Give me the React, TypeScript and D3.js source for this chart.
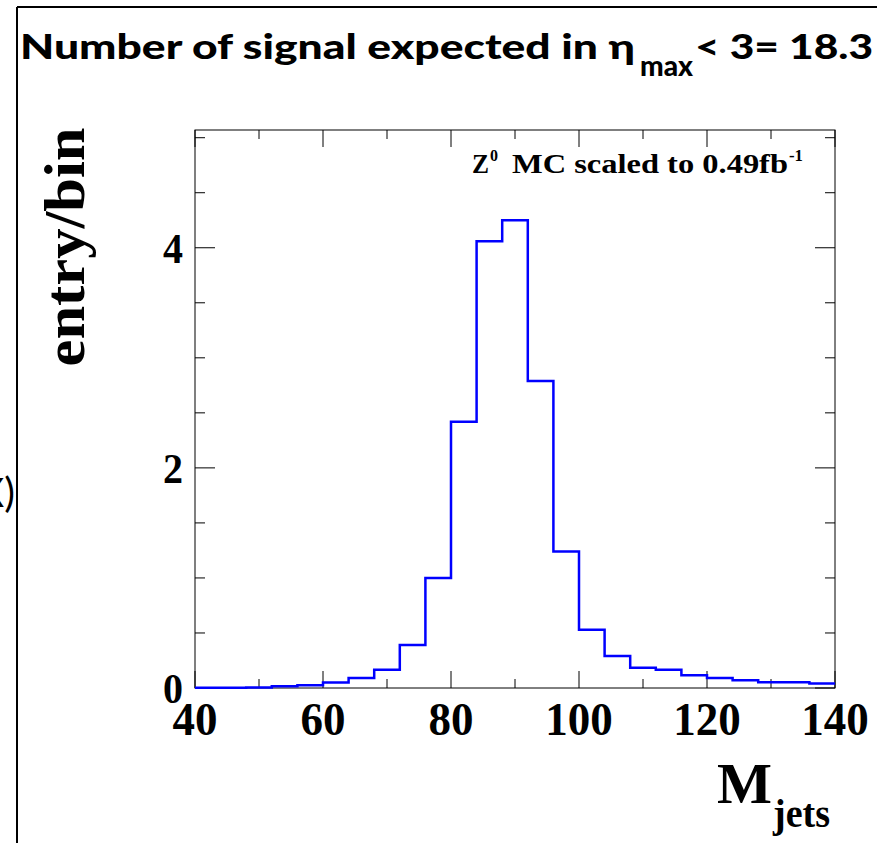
import React from "react";
import * as d3 from "d3";

const binLow = [40, 44, 48, 52, 56, 60, 64, 68, 72, 76, 80, 84, 88, 92, 96, 100, 104, 108, 112, 116, 120, 124, 128, 132, 136];
const binWidth = 4;
const counts = [0.003, 0.003, 0.004, 0.015, 0.025, 0.05, 0.09, 0.165, 0.39, 1.0, 2.42, 4.06, 4.25, 2.79, 1.24, 0.53, 0.29, 0.185, 0.165, 0.115, 0.09, 0.07, 0.053, 0.053, 0.04];
const xTickLabels = [40, 60, 80, 100, 120, 140];
const yTickLabels = [0, 2, 4];
const xDomain = [40, 140];
const yDomain = [0, 5.07];

const W = 877;
const H = 843;

export default function App() {
  const x = d3.scaleLinear().domain(xDomain).range([195, 835]);
  const y = d3.scaleLinear().domain(yDomain).range([688, 130]);

  const pts: [number, number][] = [];
  binLow.forEach((lo, i) => {
    pts.push([lo, counts[i]]);
    pts.push([lo + binWidth, counts[i]]);
  });
  const line = d3
    .line<[number, number]>()
    .x((d) => x(d[0]))
    .y((d) => y(d[1]));
  const path = line(pts) || "";

  const xMinor = d3.range(40, 141, 10);
  const yMinor = d3.range(0, 5.01, 0.5);
  const serif = "'Liberation Serif', 'Times New Roman', serif";
  const sans = "Lato, 'Open Sans', sans-serif";

  const x0 = x(40), x1 = x(140), y0 = y(0), y1 = y(yDomain[1]);

  return (
    <svg width={W} height={H} style={{ position: "absolute", left: 0, top: 0, background: "#fff" }}>
      <rect x={0} y={0} width={W} height={H} fill="#fff" />
      {/* outer slide frame */}
      <line x1={17} y1={7} x2={W} y2={7} stroke="#000" strokeWidth={2} />
      <line x1={17} y1={7} x2={17} y2={H} stroke="#000" strokeWidth={2} />
      <text x={15} y={507} textAnchor="end" fontFamily={sans} fontSize={40} fill="#000">X)</text>

      {/* title */}
      <g fontFamily={sans} fontWeight={900} fill="#000">
        <text x={20} y={59} fontSize={34} textLength={615} lengthAdjust="spacingAndGlyphs">Number of signal expected in η</text>
        <text x={640} y={76} fontSize={29} textLength={53} lengthAdjust="spacingAndGlyphs">max</text>
        <text x={695} y={59} fontSize={34} textLength={178} lengthAdjust="spacingAndGlyphs">&lt; 3= 18.3</text>
      </g>

      {/* plot frame */}
      <rect x={x0} y={y1} width={x1 - x0} height={y0 - y1} fill="none" stroke="#000" strokeWidth={1} />

      {/* x ticks */}
      {xMinor.map((v) => {
        const major = v % 20 === 0;
        const len = major ? 17 : 9;
        return (
          <g key={"xt" + v}>
            <line x1={x(v)} x2={x(v)} y1={y0} y2={y0 - len} stroke="#000" strokeWidth={1} />
            <line x1={x(v)} x2={x(v)} y1={y1} y2={y1 + len} stroke="#000" strokeWidth={1} />
          </g>
        );
      })}
      {/* y ticks */}
      {yMinor.map((v) => {
        const major = Math.abs(v % 2) < 1e-9;
        const len = major ? 20 : 10;
        return (
          <g key={"yt" + v}>
            <line x1={x0} x2={x0 + len} y1={y(v)} y2={y(v)} stroke="#000" strokeWidth={1} />
            <line x1={x1} x2={x1 - len} y1={y(v)} y2={y(v)} stroke="#000" strokeWidth={1} />
          </g>
        );
      })}

      {/* histogram */}
      <path d={path} fill="none" stroke="#0000ff" strokeWidth={2.5} />

      {/* x tick labels */}
      {xTickLabels.map((v) => (
        <text key={"xl" + v} x={x(v)} y={735} textAnchor="middle" fontFamily={serif} fontWeight="bold" fontSize={46} fill="#000"
          textLength={String(v).length * 22.5} lengthAdjust="spacingAndGlyphs">{v}</text>
      ))}
      {/* y tick labels */}
      {yTickLabels.map((v) => (
        <text key={"yl" + v} x={183} y={y(v) + 15} textAnchor="end" fontFamily={serif} fontWeight="bold" fontSize={42} fill="#000"
          textLength={20} lengthAdjust="spacingAndGlyphs">{v}</text>
      ))}

      {/* axis titles */}
      <text transform="translate(84,247) rotate(-90)" textAnchor="middle" fontFamily={serif} fontWeight="bold" fontSize={57} fill="#000"
        textLength={239} lengthAdjust="spacingAndGlyphs">entry/bin</text>
      <text x={717} y={803} fontFamily={serif} fontWeight="bold" fontSize={57} fill="#000" textLength={55} lengthAdjust="spacingAndGlyphs">M</text>
      <text x={773} y={827} fontFamily={serif} fontWeight="bold" fontSize={40} fill="#000" textLength={57} lengthAdjust="spacingAndGlyphs">jets</text>

      {/* annotation */}
      <g fontFamily={serif} fontWeight="bold" fill="#000">
        <text x={472} y={173} fontSize={27} textLength={17} lengthAdjust="spacingAndGlyphs">Z</text>
        <text x={490} y={161} fontSize={16}>0</text>
        <text x={512} y={173} fontSize={27} textLength={276} lengthAdjust="spacingAndGlyphs">MC scaled to 0.49fb</text>
        <text x={789} y={161} fontSize={16} textLength={14} lengthAdjust="spacingAndGlyphs">-1</text>
      </g>
    </svg>
  );
}
